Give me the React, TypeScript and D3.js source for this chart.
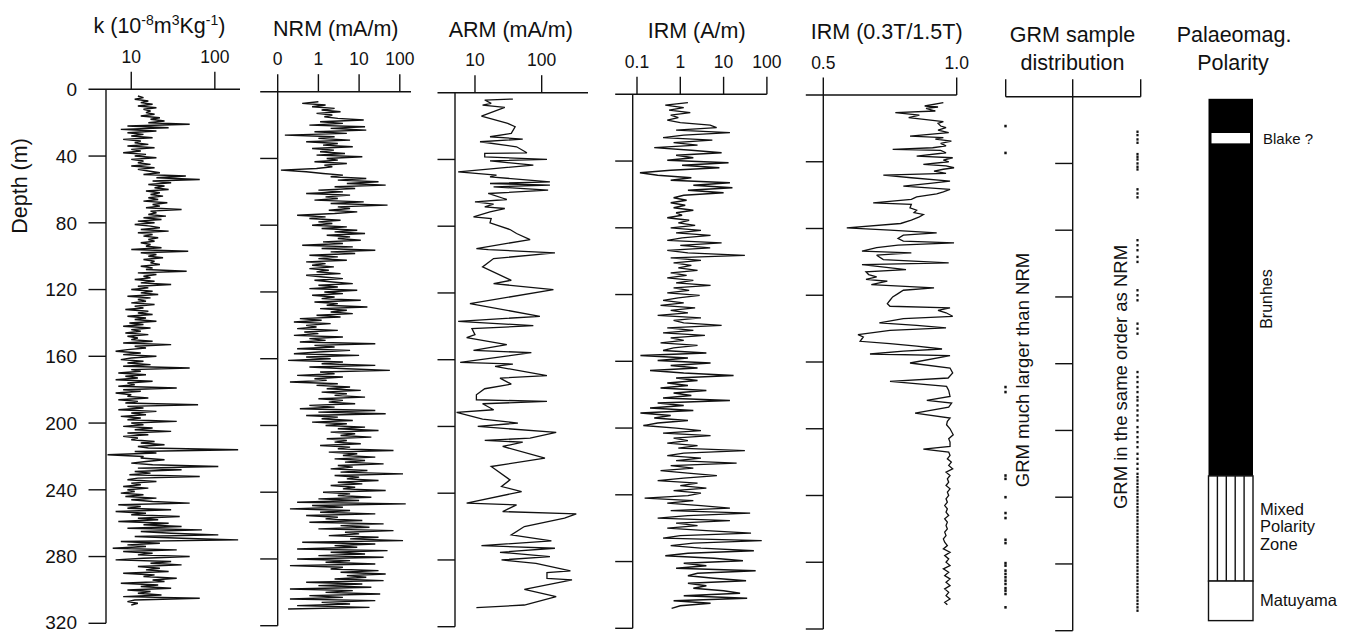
import React from "react";
import * as d3 from "d3";

// ---------- DATA ----------
const depthTicks = [0, 40, 80, 120, 160, 200, 240, 280, 320];

// magnetic susceptibility k (10^-8 m3/kg), sampled every 1 m from 4 m
const kStart = 4;
const kStep = 1;
const kValues = [
  12, 14, 11, 16, 13, 18, 12, 20, 14, 17,
  15, 19, 13, 22, 17, 25, 16, 50, 9, 28,
  7.5, 20, 9, 14, 10, 18, 8, 13, 11, 16,
  9, 19, 10, 13, 8, 15, 11, 20, 10, 14,
  12, 17, 10, 19, 12, 16, 22, 14, 45, 20,
  66, 18, 30, 16, 25, 19, 28, 15, 22, 17,
  24, 16, 21, 14, 27, 18, 22, 15, 40, 17,
  20, 16, 26, 14, 23, 12, 19, 11, 17, 22,
  13, 28, 12, 18, 14, 21, 16, 19, 13, 17,
  15, 23, 10, 48, 13, 20, 16, 24, 14, 19,
  17, 22, 13, 18, 15, 46, 12, 20, 14, 17,
  11, 19, 13, 30, 12, 16, 10, 18, 13, 21,
  9, 17, 12, 15, 10, 19, 11, 14, 8.5, 16,
  12, 18, 9, 15, 11, 20, 9.5, 14, 8, 17,
  10, 13, 8.5, 16, 9, 12, 10, 18, 8, 30,
  11, 15, 9, 6.5, 13, 8, 20, 10, 7.5, 14,
  9, 17, 8, 50, 10, 13, 7, 15, 8.5, 12,
  6.5, 18, 9, 11, 7, 35, 8, 13, 6.5, 10,
  9, 16, 7, 12, 8.5, 63, 9, 14, 7, 20,
  10, 15, 7.5, 13, 9, 35, 10, 14, 8, 18,
  11, 30, 9, 16, 8, 12, 10, 19, 13, 25,
  12, 16, 190, 11, 20, 5.2, 14, 13, 25, 15,
  10, 18, 110, 12, 40, 11, 17, 9.5, 66, 12,
  9, 20, 10, 13, 8, 16, 9, 11, 7.5, 14,
  8.5, 20, 10, 18, 50, 7, 13, 9, 30, 6.5,
  15, 10, 38, 12, 21, 7, 28, 14, 40, 9,
  70, 13, 30, 110, 11, 40, 190, 7.5, 22, 9,
  15, 6, 35, 8, 18, 12, 50, 14, 6.5, 30,
  17, 40, 12, 22, 15, 28, 8, 19, 14, 35,
  18, 25, 7.5, 21, 13, 30, 9, 17, 12, 23,
  8, 66, 11, 9, 12, 10,
];

// NRM (mA/m), every 1 m from 6 m
const nrmStart = 6;
const nrmStep = 1;
const nrmValues = [
  1.0, 0.4, 1.5, 0.7, 2.5, 1.2, 3.5, 0.9, 2.2, 1.4,
  3, 13, 1.1, 4, 0.6, 14, 2, 15, 0.8, 5,
  0.15, 2.5, 1.0, 6, 0.5, 3, 1.3, 7, 0.7, 2.4,
  1.1, 4.5, 0.9, 12, 1.6, 3, 0.8, 5, 1.4, 2.2,
  0.9, 0.12, 0.5, 1.3, 4, 2, 15, 3, 30, 5,
  45, 2.5, 8, 1.0, 4, 0.5, 6, 1.5, 3, 0.8,
  13, 2, 50, 3, 6, 1.8, 9, 2.5, 0.3, 1.5,
  0.6, 3.5, 1.0, 2.2, 0.7, 5, 1.2, 9, 2.5, 14,
  1.6, 6, 3, 11, 1.3, 4, 0.4, 7, 1.2, 25,
  2, 8, 0.6, 3, 1.0, 5, 0.5, 1.5, 0.7, 2.4,
  0.6, 1.8, 0.9, 3.5, 0.5, 1.3, 4, 0.8, 2.2, 7,
  1.0, 3, 0.6, 9, 1.4, 4, 0.7, 2.5, 1.2, 11,
  0.8, 3, 1.6, 16, 1.1, 5, 2, 7, 0.9, 3.5,
  0.35, 1.2, 0.25, 2, 0.5, 0.9, 0.3, 3, 0.45, 1.0,
  0.25, 4, 0.6, 1.5, 0.35, 25, 0.8, 2.5, 0.3, 6,
  1.0, 0.25, 10, 0.5, 2, 0.18, 4, 1.2, 25, 0.6,
  5, 57, 1.1, 2.5, 0.3, 4, 0.8, 1.6, 0.2, 3,
  0.9, 6, 1.6, 11, 1.2, 5, 2.5, 14, 1.0, 4,
  1.8, 8, 0.6, 2.5, 0.35, 25, 1.0, 45, 0.5, 3,
  1.2, 7, 0.7, 5, 1.5, 14, 3, 30, 2, 8,
  3.5, 20, 1.6, 5, 2.5, 11, 1.1, 6, 3, 70,
  1.8, 9, 4, 25, 2.5, 14, 4.5, 40, 3, 7,
  2, 16, 3.5, 120, 2.5, 10, 5, 30, 3, 12,
  2, 8, 4, 45, 1.3, 6, 3, 20, 1.0, 10,
  0.3, 140, 0.7, 4, 0.2, 6, 1.1, 25, 0.5, 3,
  1.5, 12, 0.6, 40, 3.5, 18, 1.0, 70, 4.5, 10,
  1.8, 30, 6, 120, 0.4, 25, 2.5, 9, 0.3, 50,
  2, 14, 1.0, 40, 0.3, 6, 1.5, 25, 0.2, 4,
  2, 30, 3.5, 45, 5, 15, 2.5, 40, 0.5, 12,
  1.0, 20, 0.2, 7, 1.5, 33, 0.6, 4, 0.2, 25,
  1.2, 6, 0.3, 18, 0.18,
];

// ARM (mA/m): [depth m, value]
const armData: [number, number][] = [
  [3.8, 37], [4.4, 14], [6.4, 17.5], [7.4, 13], [8.8, 28], [14, 12.5], [18.4, 31], [20.4, 40],
  [24.4, 35], [26.4, 16.8], [27.8, 52], [29.4, 11.9], [32.4, 42], [36, 60], [36.4, 14], [38.4, 14],
  [40, 120], [40.8, 16.8], [43.4, 75], [47.4, 5.6], [49.4, 21], [50.4, 16.8], [53.4, 133], [54.4, 16.8],
  [55.4, 133], [56.4, 19], [58.4, 125], [60.4, 15.8], [64, 30], [65.4, 10], [66.8, 19], [68.4, 14],
  [69.4, 28], [71.4, 16.8], [74.4, 9.5], [75.4, 17.5], [78, 16.8], [82, 33.5], [84.4, 42], [88, 67],
  [93.4, 10.5], [94, 15.8], [96, 158], [99.4, 19], [104.4, 13], [112.4, 35], [114.4, 19], [118, 150],
  [126.4, 8.4], [134, 94], [137, 5.6], [139.6, 75], [141.4, 9], [145, 10], [146.8, 7.5], [151, 30],
  [154.4, 9.5], [155.8, 70], [161.6, 6], [162.6, 37], [164, 20], [169.6, 120], [171, 23.7], [174.6, 35],
  [177.4, 14], [181, 10.5], [184, 10.5], [185, 120], [186.4, 13], [190, 19], [191.6, 5.3], [195.6, 13],
  [198, 44], [200, 11], [203.6, 165], [207, 67], [208.4, 14], [209.4, 52], [212, 26], [219, 112],
  [224, 17.5], [232, 33.5], [236, 25], [239, 50], [246, 7.5], [247, 42], [251, 26], [252.4, 330],
  [255, 220], [260, 55], [265, 35], [268.6, 140], [271.4, 12.5], [273, 158], [275.4, 23.7], [278, 133],
  [280, 25], [282, 82], [286.6, 270], [287.6, 120], [291, 120], [292, 285], [297.6, 55], [302, 165],
  [307, 55], [308.6, 10.5],
];

// IRM (A/m), every 1.5 m from 5 m
const irmStart = 5;
const irmStep = 1.5;
const irmValues = [
  1.5, 0.45, 1.2, 0.55, 1.7, 0.6, 0.9, 0.5, 1.0, 4.9,
  6.9, 0.8, 14, 1.2, 0.4, 5.5, 0.7, 2.5, 0.25, 1.8,
  9, 0.8, 2, 0.5, 13, 1.1, 8, 0.6, 0.117, 0.3,
  1.8, 0.6, 14, 2, 16, 1.5, 10, 1.2, 0.7, 1.4,
  0.6, 1.3, 0.7, 2, 0.8, 1.1, 0.5, 1.6, 0.9, 2.2,
  0.6, 3, 0.8, 5, 1.1, 0.5, 9, 1.0, 4.9, 0.5,
  1.5, 31, 0.6, 3, 0.7, 1.8, 0.9, 2.5, 0.6, 1.4,
  0.5, 2, 0.8, 5, 0.7, 1.6, 0.5, 2.8, 0.9, 0.4,
  1.2, 0.35, 2.2, 0.6, 1.5, 0.3, 3, 0.7, 1.2, 9,
  0.5, 2, 0.4, 3.7, 0.6, 1.2, 0.35, 2.5, 0.7, 0.4,
  4, 0.12, 1.5, 0.3, 5, 0.6, 2.5, 0.2, 1.2, 17,
  0.8, 2.5, 0.5, 1.5, 0.35, 4, 0.7, 1.8, 0.4, 14,
  0.3, 1.2, 0.2, 2, 0.12, 0.6, 0.25, 1.5, 0.3, 0.14,
  0.8, 3, 0.4, 5, 0.7, 1.5, 0.5, 2.5, 0.9, 31,
  1.2, 0.5, 3, 0.8, 20, 0.6, 2, 0.35, 1.5, 7,
  1.2, 0.3, 2.5, 1.0, 4, 0.7, 3, 1.5, 0.15, 2,
  0.5, 3, 14, 0.6, 41, 1.5, 0.3, 14, 0.8, 2.5,
  0.5, 4, 43, 1.0, 0.4, 76, 2, 0.6, 3, 50,
  1.5, 0.45, 6, 28, 1.2, 4, 0.8, 55, 2.5, 1.5,
  6, 33, 1.5, 4, 2, 10, 24, 1.2, 35, 0.7,
  5, 1.0, 0.63,
];

// IRM(0.3T)/IRM(1.5T): [depth m, ratio]
const ratioData: [number, number][] = [
  [4.6, 0.95], [6.6, 0.88], [7.2, 0.93], [8, 0.885], [9.6, 0.92], [10.6, 0.77], [12, 0.86], [13.6, 0.82],
  [15.2, 0.91], [16, 0.95], [17, 0.93], [18.6, 0.94], [19.6, 0.96], [21, 0.93], [22.5, 0.97], [24.6, 0.825],
  [25.6, 0.95], [26.5, 0.92], [27.6, 0.98], [29, 0.94], [30.5, 0.96], [31.6, 0.91], [32.6, 0.76], [33.2, 0.94],
  [34.6, 0.96], [36.6, 0.85], [37.6, 0.985], [39, 0.95], [40, 0.97], [41.6, 0.875], [42.5, 0.96], [43.6, 0.99],
  [44.5, 0.95], [45.6, 0.915], [47, 0.96], [48, 0.725], [49.6, 0.83], [51.6, 0.975], [53, 0.9], [54.6, 0.8],
  [56.6, 0.975], [58, 0.95], [59.2, 0.925], [61, 0.85], [62.5, 0.83], [64.6, 0.687], [65.5, 0.83], [67.6, 0.825],
  [69, 0.85], [70.5, 0.84], [71.6, 0.875], [73, 0.86], [75, 0.83], [77, 0.79], [79.6, 0.588], [81, 0.75],
  [82.6, 0.925], [84, 0.8], [86, 0.78], [87.6, 0.8], [88.6, 0.99], [90, 0.78], [91.5, 0.7], [93.6, 0.645],
  [94.6, 0.83], [96, 0.7], [98.6, 0.725], [100.6, 0.97], [101.6, 0.645], [103, 0.72], [104.6, 0.81], [106, 0.66],
  [107.6, 0.67], [109, 0.7], [110.5, 0.66], [111.6, 0.74], [113.6, 0.68], [115.6, 0.915], [117, 0.8], [119, 0.78],
  [121, 0.76], [123, 0.75], [125, 0.74], [126.6, 0.75], [127.6, 0.975], [129, 0.93], [130.5, 0.96], [132.6, 0.985],
  [134, 0.8], [136.6, 0.71], [138, 0.85], [139.6, 0.96], [141, 0.75], [143.6, 0.63], [145, 0.65], [147.6, 0.638],
  [149, 0.75], [150.5, 0.85], [152.2, 0.945], [153.5, 0.8], [155.2, 0.675], [156.2, 0.975], [160.6, 0.825], [163.6, 0.975],
  [166.6, 0.985], [169.6, 0.968], [171.6, 0.75], [174.6, 0.962], [177, 0.97], [180.6, 0.975], [183, 0.888], [184.6, 0.981],
  [187, 0.97], [190.6, 0.844], [193.6, 0.975], [195.5, 0.965], [197.6, 0.962], [200, 0.975], [203.6, 0.987], [206, 0.97],
  [208, 0.975], [210.6, 0.975], [212.2, 0.875], [214, 0.97], [216, 0.975], [218, 0.965], [220, 0.98], [222, 0.97],
  [224, 0.985], [226, 0.96], [228, 0.975], [230, 0.965], [232, 0.97], [234, 0.96], [236, 0.975], [238, 0.965],
  [240, 0.97], [242, 0.96], [244, 0.965], [246, 0.955], [248, 0.965], [250, 0.96], [252, 0.97], [254, 0.955],
  [256, 0.965], [258, 0.96], [260, 0.965], [262, 0.955], [264, 0.96], [266, 0.95], [268, 0.955], [270, 0.965],
  [272, 0.95], [274, 0.975], [276, 0.955], [278, 0.97], [280, 0.96], [282, 0.975], [284, 0.95], [286, 0.97],
  [288, 0.955], [290, 0.975], [292, 0.96], [294, 0.975], [296, 0.955], [298, 0.97], [300, 0.96], [302, 0.975],
  [304, 0.955], [305.5, 0.965],
];

// GRM sample depths (m)
const grmMuchLarger = [17.6, 33.7, 174, 177, 227, 229, 240, 249.5, 252.5, 265.5, 267.5, 279.5, 281, 284, 286, 288, 290, 292, 294.5, 296, 298, 306];
const grmSameOrder = [
  21, 23, 25.6, 27.6, 34.4, 36, 37.6, 40, 42, 43.6, 55.5, 58, 60.3, 86, 89, 92, 96, 99, 116, 119, 122,
  136, 139, 142, 165, 168, 171, 174, 177, 180, 182, 185, 188, 191, 194, 198, 201, 204, 207, 210, 214, 217,
  220, 223, 226, 228, 230, 232, 234, 236, 238, 240, 242, 244, 246, 248, 250, 252, 254, 256, 258, 260, 262,
  264, 266, 268, 270, 272, 274, 276, 278, 280, 282, 284, 286, 288, 290, 292, 294, 296, 298, 300, 302, 304,
  306, 308,
];

// Polarity column (depths in m)
const brunhes = [0, 226];
const blake = [20.5, 26.7];
const mixedZone = [226, 289];
const matuyama = [289, 312.7];
const mixedStripes = 5;

// ---------- LAYOUT ----------
const FONT = "'Liberation Sans', Arial, Helvetica, sans-serif";
const PX_PER_M = 534 / 320;
const depthScale = (y0: number) => d3.scaleLinear().domain([0, 320]).range([y0, y0 + 320 * PX_PER_M]);

type Pt = [number, number];
const regular = (start: number, step: number, vals: number[]): Pt[] => vals.map((v, i) => [start + i * step, v]);

type PanelCfg = {
  key: string;
  y0: number;
  axisX: number;
  right: number;
  xScale: (v: number) => number;
  ticks: number[];
  tickLabels: string[];
  titleX: number;
  title: React.ReactNode;
  data: Pt[];
  sw: number;
};

const TITLE_FS = 21.5;
const SUP_FS = 14;

const panels: PanelCfg[] = [
  {
    key: "k", y0: 89.3, axisX: 106, right: 240,
    xScale: d3.scaleLog().domain([5, 200]).range([106.1, 240]),
    ticks: [10, 100], tickLabels: ["10", "100"], titleX: 159.5,
    title: (
      <>
        k (10<tspan dy={-8} fontSize={SUP_FS}>-8</tspan>
        <tspan dy={8}>m</tspan>
        <tspan dy={-8} fontSize={SUP_FS}>3</tspan>
        <tspan dy={8}>Kg</tspan>
        <tspan dy={-8} fontSize={SUP_FS}>-1</tspan>
        <tspan dy={8}>)</tspan>
      </>
    ),
    data: regular(kStart, kStep, kValues), sw: 1.45,
  },
  {
    key: "nrm", y0: 91.7, axisX: 277.7, right: 411,
    xScale: d3.scaleLog().domain([0.1, 200]).range([277.7, 277.7 + 40.7 * Math.log10(2000)]),
    ticks: [0.1, 1, 10, 100], tickLabels: ["0", "1", "10", "100"], titleX: 335.8,
    title: "NRM (mA/m)", data: regular(nrmStart, nrmStep, nrmValues), sw: 1.4,
  },
  {
    key: "arm", y0: 92.7, axisX: 455, right: 588,
    xScale: d3.scaleLog().domain([5, 500]).range([454.9, 588.3]),
    ticks: [10, 100], tickLabels: ["10", "100"], titleX: 510.8,
    title: "ARM (mA/m)", data: armData, sw: 1.3,
  },
  {
    key: "irm", y0: 94.3, axisX: 632.7, right: 766.8,
    xScale: d3.scaleLog().domain([0.08, 100]).range([632.8, 766.9]),
    ticks: [0.1, 1, 10, 100], tickLabels: ["0.1", "1", "10", "100"], titleX: 696.7,
    title: "IRM (A/m)", data: regular(irmStart, irmStep, irmValues), sw: 1.35,
  },
  {
    key: "ratio", y0: 95, axisX: 823.3, right: 956.7,
    xScale: d3.scaleLinear().domain([0.5, 1.0]).range([823.3, 956.7]),
    ticks: [0.5, 1.0], tickLabels: ["0.5", "1.0"], titleX: 886.7,
    title: "IRM (0.3T/1.5T)", data: ratioData, sw: 1.3,
  },
];

const TICK = 17.5;
const AX = { stroke: "#111", strokeWidth: 1.4, fill: "none" } as const;

function Panel({ p }: { p: PanelCfg }) {
  const ys = depthScale(p.y0);
  const line = d3
    .line<Pt>()
    .x((d) => p.xScale(d[1]))
    .y((d) => ys(d[0]));
  return (
    <g>
      <line x1={p.axisX - TICK} x2={p.right} y1={p.y0} y2={p.y0} {...AX} />
      <line x1={p.axisX} x2={p.axisX} y1={p.y0} y2={ys(320)} {...AX} />
      {depthTicks.slice(1).map((d) => (
        <line key={d} x1={p.axisX - TICK} x2={p.axisX} y1={ys(d)} y2={ys(d)} {...AX} />
      ))}
      {p.ticks.map((t, i) => (
        <g key={t}>
          <line x1={p.xScale(t)} x2={p.xScale(t)} y1={p.y0} y2={p.y0 - TICK} {...AX} />
          <text x={p.xScale(t)} y={p.y0 - 26.5} textAnchor="middle" fontSize={17.5}>
            {p.tickLabels[i]}
          </text>
        </g>
      ))}
      <text x={p.titleX} y={p.y0 - 56} textAnchor="middle" fontSize={TITLE_FS}>
        {p.title}
      </text>
      <path d={line(p.data) || ""} fill="none" stroke="#111" strokeWidth={p.sw} strokeLinejoin="miter" strokeMiterlimit={3} />
    </g>
  );
}

function DepthLabels() {
  const ys = depthScale(panels[0].y0);
  return (
    <g>
      {depthTicks.map((d) => (
        <text key={d} x={77} y={ys(d)} dy={d === 320 ? "0.3em" : "0.36em"} textAnchor="end" fontSize={19}>
          {d}
        </text>
      ))}
      <text transform={`translate(20,186) rotate(-90)`} textAnchor="middle" dominantBaseline="central" fontSize={21.5}>
        Depth (m)
      </text>
    </g>
  );
}

function GrmPanel() {
  const y0 = 96.7;
  const ys = depthScale(y0);
  const axisX = 1072.7;
  const left = 1005.7;
  const right = 1140.7;
  const xLarge = 1005.5;
  const xSame = 1137.5;
  return (
    <g>
      <text x={1072.5} y={y0 - 55} textAnchor="middle" fontSize={TITLE_FS}>GRM sample</text>
      <text x={1072.5} y={y0 - 26.5} textAnchor="middle" fontSize={TITLE_FS}>distribution</text>
      <line x1={left} x2={right} y1={y0} y2={y0} {...AX} />
      <line x1={left} x2={left} y1={y0} y2={y0 - TICK} {...AX} />
      <line x1={right} x2={right} y1={y0} y2={y0 - TICK} {...AX} />
      <line x1={axisX} x2={axisX} y1={y0 - TICK} y2={ys(320)} {...AX} />
      {depthTicks.slice(1).map((d) => (
        <line key={d} x1={axisX - TICK} x2={axisX} y1={ys(d)} y2={ys(d)} {...AX} />
      ))}
      {grmMuchLarger.map((d, i) => (
        <rect key={"l" + i} x={xLarge - 1.2} y={ys(d) - 1.3} width={2.4} height={2.6} fill="#111" />
      ))}
      {grmSameOrder.map((d, i) => (
        <rect key={"s" + i} x={xSame - 1.1} y={ys(d) - 1.2} width={2.2} height={2.4} fill="#111" />
      ))}
      <text transform={`translate(1022,370) rotate(-90)`} textAnchor="middle" dominantBaseline="central" fontSize={18.5}>
        GRM much larger than NRM
      </text>
      <text transform={`translate(1120,377) rotate(-90)`} textAnchor="middle" dominantBaseline="central" fontSize={18.5}>
        GRM in the same order as NRM
      </text>
    </g>
  );
}

function PolarityColumn() {
  const y0 = 98.8;
  const ys = depthScale(y0);
  const x0 = 1208.5;
  const x1 = 1253;
  const w = x1 - x0;
  const stripeW = w / mixedStripes;
  return (
    <g>
      <text x={1234} y={41.5} textAnchor="middle" fontSize={TITLE_FS}>Palaeomag.</text>
      <text x={1233} y={70} textAnchor="middle" fontSize={TITLE_FS}>Polarity</text>
      <rect x={x0} y={ys(brunhes[0])} width={w} height={ys(brunhes[1]) - ys(brunhes[0])} fill="#000" />
      <rect x={x0 + 3} y={ys(blake[0])} width={w - 6} height={ys(blake[1]) - ys(blake[0])} fill="#fff" />
      <rect x={x0} y={ys(mixedZone[0])} width={w} height={ys(mixedZone[1]) - ys(mixedZone[0])} fill="#fff" stroke="#111" strokeWidth={1.4} />
      {d3.range(1, mixedStripes).map((i) => (
        <line key={i} x1={x0 + i * stripeW} x2={x0 + i * stripeW} y1={ys(mixedZone[0])} y2={ys(mixedZone[1])} stroke="#111" strokeWidth={1.4} />
      ))}
      <rect x={x0} y={ys(matuyama[0])} width={w} height={ys(matuyama[1]) - ys(matuyama[0])} fill="#fff" stroke="#111" strokeWidth={1.4} />
      <text x={1263} y={ys((blake[0] + blake[1]) / 2)} dy="0.36em" fontSize={15}>Blake ?</text>
      <text transform={`translate(1266,${ys(120)}) rotate(-90)`} textAnchor="middle" dominantBaseline="central" fontSize={16}>
        Brunhes
      </text>
      <text x={1260} y={515} fontSize={16.5}>Mixed</text>
      <text x={1260} y={532} fontSize={16.5}>Polarity</text>
      <text x={1260} y={550} fontSize={16.5}>Zone</text>
      <text x={1260} y={606} fontSize={16.5}>Matuyama</text>
    </g>
  );
}

export default function App() {
  return (
    <svg
      width={1354}
      height={632}
      viewBox="0 0 1354 632"
      style={{ position: "absolute", left: 0, top: 0, background: "#fff" }}
      fontFamily={FONT}
      fill="#111"
    >
      <rect x={0} y={0} width={1354} height={632} fill="#fff" />
      <DepthLabels />
      {panels.map((p) => (
        <Panel key={p.key} p={p} />
      ))}
      <GrmPanel />
      <PolarityColumn />
    </svg>
  );
}
